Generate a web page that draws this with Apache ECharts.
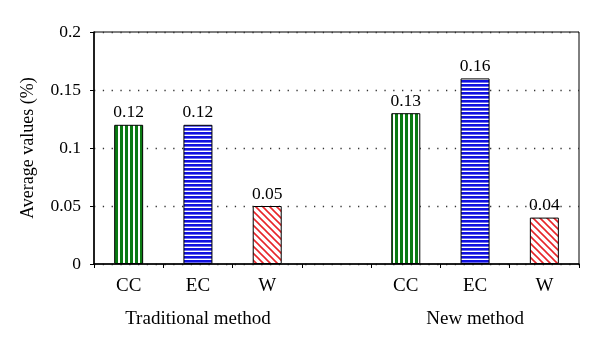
<!DOCTYPE html>
<html>
<head>
<meta charset="utf-8">
<script src="https://cdn.jsdelivr.net/npm/echarts@6/dist/echarts.min.js"></script>
<style>html,body{margin:0;padding:0;background:#fff;}#c{width:600px;height:352px;}</style>
</head>
<body>
<div id="c"></div>
<script>
var categories = ['CC', 'EC', 'W', '', 'CC', 'EC', 'W'];
var groupLabels = ['', 'Traditional method', '', '', '', 'New method', ''];
var values = [0.12, 0.12, 0.05, null, 0.13, 0.16, 0.04];
var yTicks = { min: 0, max: 0.2, interval: 0.05 };

function mk(w, h, draw) {
  var c = document.createElement('canvas');
  c.width = w; c.height = h;
  var g = c.getContext('2d');
  g.fillStyle = '#fff'; g.fillRect(0, 0, w, h);
  draw(g, w, h);
  return c;
}
var greenPat = mk(5, 4, function (g) { g.fillStyle = '#0a7a12'; g.fillRect(0, 0, 3, 4); });
var bluePat = mk(4, 4, function (g) { g.fillStyle = '#1010e0'; g.fillRect(0, 0, 4, 2.6); });
var redPat = mk(7, 7, function (g, w, h) {
  g.strokeStyle = '#e8262a'; g.lineWidth = 1.6;
  g.beginPath();
  g.moveTo(-1, -1); g.lineTo(w + 1, h + 1);
  g.moveTo(-1, h - 1); g.lineTo(1, h + 1);
  g.moveTo(w - 1, -1); g.lineTo(w + 1, 1);
  g.stroke();
});
var pats = [greenPat, bluePat, redPat];

var data = values.map(function (v, i) {
  if (v === null) return '-';
  return {
    value: v,
    itemStyle: { color: { image: pats[i < 3 ? i : i - 4], repeat: 'repeat' } }
  };
});

var font = 'Liberation Serif';
var chart = echarts.init(document.getElementById('c'), null, { renderer: 'canvas' });
chart.setOption({
  animation: false,
  grid: { left: 94, right: 21, top: 32, bottom: 88, show: true, borderColor: '#000', borderWidth: 1 },
  xAxis: [{
    type: 'category',
    data: categories,
    axisLine: { lineStyle: { color: '#000', width: 1.5 } },
    axisTick: { show: true, length: 4, lineStyle: { color: '#000' } },
    axisLabel: { color: '#000', fontFamily: font, fontSize: 19, margin: 13, interval: 0 }
  }, {
    type: 'category',
    position: 'bottom',
    offset: 34,
    data: groupLabels,
    axisLine: { show: false },
    axisTick: { show: false },
    axisLabel: { color: '#000', fontFamily: font, fontSize: 19, margin: 12, interval: 0 }
  }],
  yAxis: {
    type: 'value',
    min: yTicks.min, max: yTicks.max, interval: yTicks.interval,
    name: 'Average values (%)',
    nameLocation: 'middle',
    nameGap: 57,
    nameTextStyle: { color: '#000', fontFamily: font, fontSize: 18 },
    axisLine: { show: true, lineStyle: { color: '#000', width: 1.5 } },
    axisTick: { show: true, length: 4, lineStyle: { color: '#000' } },
    axisLabel: { color: '#000', fontFamily: font, fontSize: 17.5, margin: 13 },
    splitLine: { show: true, lineStyle: { color: '#333', type: [1.3, 7.5], width: 1.3 } }
  },
  series: [{
    type: 'bar',
    data: data,
    barWidth: 29,
    itemStyle: { borderColor: '#000', borderWidth: 1 },
    label: {
      show: true, position: 'top', distance: 3, color: '#000',
      fontFamily: font, fontSize: 17.5
    }
  }]
});
</script>
</body>
</html>
